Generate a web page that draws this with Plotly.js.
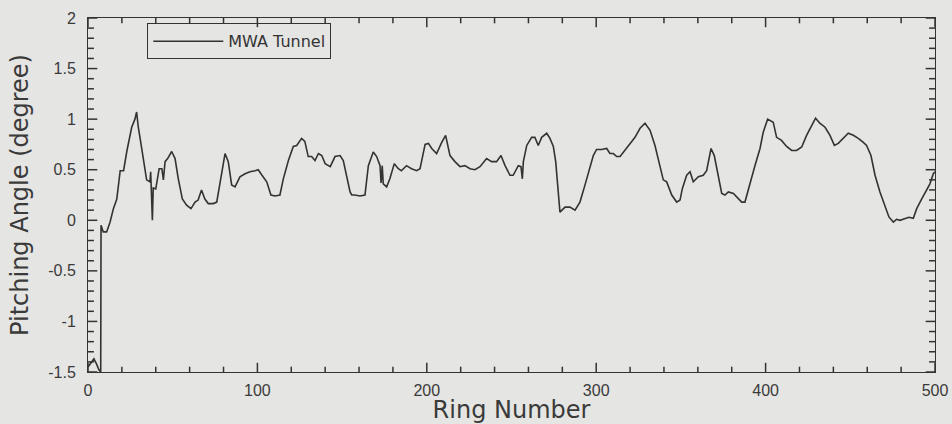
<!DOCTYPE html>
<html>
<head>
<meta charset="utf-8">
<script src="https://cdn.plot.ly/plotly-3.0.1.min.js"></script>
<style>html,body{margin:0;padding:0;background:#e5e5e3;}#chart{width:952px;height:424px;}</style>
</head>
<body>
<div id="chart"></div>
<script>
const seriesName = "MWA Tunnel";
const rings = [0,2,3.5,5,6.5,7.5,7.7,9,11,13,15,17,19,21,23,25.8,27.7,28.7,29.7,31.7,34.6,36.6,37,38,38.5,40,42,43.6,44.5,45.5,47,49.4,51.4,53.3,55.7,58.2,60.8,63.2,65,67,69,71,74,76,79,80.9,82.8,84.8,86.8,89.7,92.7,95.6,98.6,100.5,102.5,105.5,108,110.4,113.3,115.3,118.3,121.2,123.2,126.1,128,130,132,134,136,138,140,143,145.8,148.8,150.7,152.7,154.7,155.7,157.6,160.5,163.5,165.5,168.4,170.4,172.4,173,173.7,174.3,176.3,178.2,180.8,183.2,185,188,191,194,196,199,201,202.9,205.8,208.8,211.1,213.7,216.6,219.6,222.5,225.5,228.4,231.4,235.3,238.3,241.2,243.8,246.2,249.1,251,254,255.6,256.4,257,259,261.9,263.8,265.8,267.8,270.8,272.7,274.7,276.1,277.3,278.6,281.6,284.5,287.5,290.4,293.4,296.3,298.3,300.2,303.2,306.2,308.1,310.1,312.1,314.1,317,320,322.9,325.9,328.8,331.8,334.7,337.7,339.6,341.6,344.6,347.5,349.5,350.8,353.4,355.4,357.3,360.3,363.2,365.2,367.8,369.7,371.7,374.1,376,378,381,382.9,385.9,387.8,390.8,393.7,396.7,398.6,401.2,404.5,406.5,409.4,412.4,415.4,418.3,421.3,424.2,427.2,429.5,432,435.1,438,440.6,442.9,445.9,448.8,451.8,454.7,457.7,459.6,462.2,464.6,467.5,470.5,472.8,475.4,477.3,479.3,482.3,484.6,487.2,489.2,492.1,495.1,497,499,500];
const angles = [-1.45,-1.40,-1.37,-1.42,-1.48,-1.50,-0.05,-0.115,-0.115,-0.02,0.115,0.21,0.49,0.49,0.69,0.92,1.0,1.07,0.92,0.71,0.40,0.38,0.48,0.0,0.32,0.31,0.51,0.51,0.40,0.58,0.61,0.68,0.61,0.41,0.21,0.15,0.115,0.18,0.2,0.30,0.21,0.165,0.165,0.18,0.49,0.66,0.58,0.35,0.33,0.43,0.46,0.48,0.49,0.50,0.45,0.38,0.25,0.24,0.25,0.41,0.59,0.73,0.74,0.81,0.78,0.63,0.63,0.59,0.66,0.64,0.56,0.53,0.63,0.64,0.59,0.445,0.28,0.25,0.25,0.24,0.25,0.54,0.675,0.63,0.54,0.37,0.54,0.36,0.33,0.41,0.56,0.51,0.49,0.54,0.51,0.49,0.51,0.75,0.76,0.71,0.66,0.77,0.84,0.64,0.58,0.53,0.54,0.51,0.50,0.53,0.61,0.58,0.58,0.64,0.54,0.445,0.445,0.54,0.53,0.41,0.58,0.74,0.82,0.82,0.74,0.82,0.86,0.81,0.73,0.58,0.31,0.08,0.13,0.13,0.10,0.18,0.35,0.53,0.64,0.70,0.70,0.71,0.66,0.66,0.63,0.63,0.69,0.76,0.82,0.91,0.96,0.89,0.74,0.53,0.40,0.38,0.25,0.18,0.20,0.31,0.445,0.48,0.38,0.43,0.445,0.49,0.71,0.64,0.48,0.265,0.25,0.28,0.265,0.23,0.18,0.18,0.35,0.54,0.71,0.87,1.0,0.97,0.82,0.79,0.73,0.69,0.69,0.725,0.84,0.94,1.01,0.96,0.92,0.84,0.74,0.76,0.81,0.86,0.84,0.81,0.77,0.74,0.64,0.445,0.28,0.13,0.033,-0.017,0.01,0.0,0.017,0.03,0.02,0.115,0.21,0.30,0.36,0.46,0.48];
const xTickVals = [0,100,200,300,400,500];
const xTickText = ["0","100","200","300","400","500"];
const yTickVals = [-1.5,-1,-0.5,0,0.5,1,1.5,2];
const yTickText = ["-1.5","-1","-0.5","0","0.5","1","1.5","2"];
const xTitle = "Ring Number";
const yTitle = "Pitching Angle (degree)";

const axisCol = "#333333";
const tickFont = {family: "Liberation Sans, Arial, sans-serif", size: 16, color: "#3a3a3a"};
const titleFont = {family: "DejaVu Sans, Arial, sans-serif", size: 24, color: "#3a3a3a"};

// Tick marks drawn as axis-referenced shapes (major at tick values, minor at 1/5 steps)
function tickShapes() {
  const shapes = [];
  const tickLine = {color: axisCol, width: 1.5};
  const xStep = (xTickVals[1] - xTickVals[0]) / 5;
  const xLast = xTickVals[xTickVals.length - 1];
  for (let i = 0; xTickVals[0] + i * xStep <= xLast + 1e-9; i++) {
    const v = xTickVals[0] + i * xStep;
    const len = (i % 5 === 0) ? 0.026 : 0.015;
    shapes.push({type: "line", xref: "x", yref: "paper", x0: v, x1: v, y0: 0, y1: len, line: tickLine, layer: "above"});
    shapes.push({type: "line", xref: "x", yref: "paper", x0: v, x1: v, y0: 1, y1: 1 - len, line: tickLine, layer: "above"});
  }
  const yStep = (yTickVals[1] - yTickVals[0]) / 5;
  const yLast = yTickVals[yTickVals.length - 1];
  for (let i = 0; yTickVals[0] + i * yStep <= yLast + 1e-9; i++) {
    const v = yTickVals[0] + i * yStep;
    const len = (i % 5 === 0) ? 0.011 : 0.007;
    shapes.push({type: "line", xref: "paper", yref: "y", y0: v, y1: v, x0: 0, x1: len, line: tickLine, layer: "above"});
    shapes.push({type: "line", xref: "paper", yref: "y", y0: v, y1: v, x0: 1, x1: 1 - len, line: tickLine, layer: "above"});
  }
  return shapes;
}

const trace = {
  x: rings, y: angles, type: "scatter", mode: "lines", name: seriesName,
  line: {color: "#333333", width: 1.6}
};
const layout = {
  width: 952, height: 424,
  paper_bgcolor: "#e5e5e3", plot_bgcolor: "#e5e5e3",
  margin: {l: 88, r: 17, t: 18, b: 52},
  showlegend: true,
  legend: {
    x: 0.07, y: 0.985, xanchor: "left", yanchor: "top",
    bgcolor: "rgba(0,0,0,0)", bordercolor: "#333", borderwidth: 1,
    font: {family: "DejaVu Sans, Arial, sans-serif", size: 16, color: "#333"},
    itemwidth: 70
  },
  shapes: tickShapes(),
  xaxis: {
    range: [0, 500], showgrid: false, zerolinecolor: "rgba(0,0,0,0)",
    showline: true, linecolor: axisCol, mirror: true,
    ticks: "", ticklabelstandoff: 4,
    tickmode: "array", tickvals: xTickVals, ticktext: xTickText, tickfont: tickFont,
    title: {text: xTitle, font: titleFont, standoff: 4}
  },
  yaxis: {
    range: [-1.5, 2], showgrid: false, zerolinecolor: "rgba(0,0,0,0)",
    showline: true, linecolor: axisCol, mirror: true,
    ticks: "", ticklabelstandoff: 8,
    tickmode: "array", tickvals: yTickVals, ticktext: yTickText, tickfont: tickFont,
    title: {text: yTitle, font: titleFont, standoff: 12}
  }
};
Plotly.newPlot("chart", [trace], layout, {displayModeBar: false});
</script>
</body>
</html>
